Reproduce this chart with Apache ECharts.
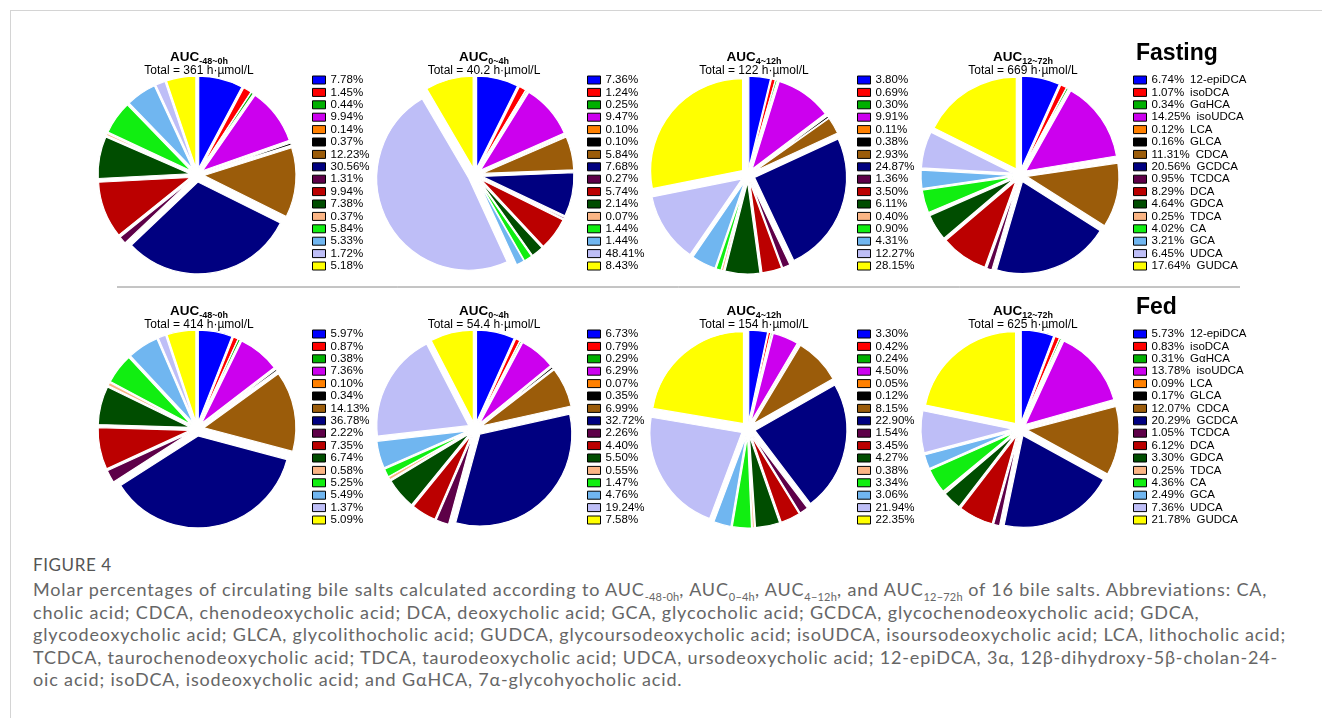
<!DOCTYPE html>
<html>
<head>
<meta charset="utf-8">
<script src="https://cdn.jsdelivr.net/npm/echarts@6/dist/echarts.min.js"></script>
<style>
body { margin: 0; background: #fff; }
#frame { position: absolute; left: 10px; top: 10px; width: 1320px; height: 720px; border-left: 1px solid #d4d4d4; border-top: 1px solid #d4d4d4; }
#chart { position: absolute; left: 0; top: 0; width: 1322px; height: 545px; }
#cap { position: absolute; left: 33px; top: 554px; font-family: Lato, sans-serif; color: #666; white-space: nowrap; }
#cap .fig { font-size: 17px; letter-spacing: 0.6px; color: #555; margin-bottom: 3px; }
#cap .txt { font-size: 18px; letter-spacing: 0.84px; line-height: 22.5px; }
#cap sub { font-size: 11px; line-height: 0; letter-spacing: 0.2px; }
</style>
</head>
<body>
<div id="frame"></div>
<div id="chart"></div>
<div id="cap">
  <div class="fig">FIGURE 4</div>
  <div class="txt">
    Molar percentages of circulating bile salts calculated according to AUC<sub>-48-0h</sub>, AUC<sub>0−4h</sub>, AUC<sub>4−12h</sub>, and AUC<sub>12−72h</sub> of 16 bile salts. Abbreviations: CA,<br>
    cholic acid; CDCA, chenodeoxycholic acid; DCA, deoxycholic acid; GCA, glycocholic acid; GCDCA, glycochenodeoxycholic acid; GDCA,<br>
    glycodeoxycholic acid; GLCA, glycolithocholic acid; GUDCA, glycoursodeoxycholic acid; isoUDCA, isoursodeoxycholic acid; LCA, lithocholic acid;<br>
    TCDCA, taurochenodeoxycholic acid; TDCA, taurodeoxycholic acid; UDCA, ursodeoxycholic acid; 12-epiDCA, 3α, 12β-dihydroxy-5β-cholan-24-<br>
    oic acid; isoDCA, isodeoxycholic acid; and GαHCA, 7α-glycohyocholic acid.
  </div>
</div>
<script>
// bile salts, in pie order (clockwise from 12 o'clock)
const bileSalts = ['12-epiDCA', 'isoDCA', 'GαHCA', 'isoUDCA', 'LCA', 'GLCA', 'CDCA', 'GCDCA',
  'TCDCA', 'DCA', 'GDCA', 'TDCA', 'CA', 'GCA', 'UDCA', 'GUDCA']
const saltColors = ['#0000ff', '#ff0000', '#00b000', '#cc00ee', '#ff8000', '#000000', '#9b5c0a', '#000080',
  '#5e0048', '#bb0000', '#004d00', '#fbb585', '#11ee11', '#70b6f0', '#bebef7', '#ffff00']

const periods = ['-48~0h', '0~4h', '4~12h', '12~72h']
const groups = ['Fasting', 'Fed']
const fastingTotals = ['361', '40.2', '122', '669']
const fedTotals = ['414', '54.4', '154', '625']

// molar percentages
const fasting48 = [7.78, 1.45, 0.44, 9.94, 0.14, 0.37, 12.23, 30.56, 1.31, 9.94, 7.38, 0.37, 5.84, 5.33, 1.72, 5.18]
const fasting04 = [7.36, 1.24, 0.25, 9.47, 0.10, 0.10, 5.84, 7.68, 0.27, 5.74, 2.14, 0.07, 1.44, 1.44, 48.41, 8.43]
const fasting412 = [3.80, 0.69, 0.30, 9.91, 0.11, 0.38, 2.93, 24.87, 1.36, 3.50, 6.11, 0.40, 0.90, 4.31, 12.27, 28.15]
const fasting1272 = [6.74, 1.07, 0.34, 14.25, 0.12, 0.16, 11.31, 20.56, 0.95, 8.29, 4.64, 0.25, 4.02, 3.21, 6.45, 17.64]
const fed48 = [5.97, 0.87, 0.38, 7.36, 0.10, 0.34, 14.13, 36.78, 2.22, 7.35, 6.74, 0.58, 5.25, 5.49, 1.37, 5.09]
const fed04 = [6.73, 0.79, 0.29, 6.29, 0.07, 0.35, 6.99, 32.72, 2.26, 4.40, 5.50, 0.55, 1.47, 4.76, 19.24, 7.58]
const fed412 = [3.30, 0.42, 0.24, 4.50, 0.05, 0.12, 8.15, 22.90, 1.54, 3.45, 4.27, 0.38, 3.34, 3.06, 21.94, 22.35]
const fed1272 = [5.73, 0.83, 0.31, 13.78, 0.09, 0.17, 12.07, 20.29, 1.05, 6.12, 3.30, 0.25, 4.36, 2.49, 7.36, 21.78]

const rows = [
  { totals: fastingTotals, values: [fasting48, fasting04, fasting412, fasting1272] },
  { totals: fedTotals, values: [fed48, fed04, fed412, fed1272] }
]

const font = '"Liberation Sans", Arial, sans-serif'
const pieX = [197, 475, 748, 1020]
const titleX = [199, 484, 754, 1023]
const legendX = [312, 587, 857, 1133]
const rowShift = 254

let series = []
let titles = []
let legends = []
let graphics = []

rows.forEach(function (row, r) {
  let dy = r * rowShift
  row.values.forEach(function (vals, c) {
    series.push({
      type: 'pie',
      center: [pieX[c], 175 + dy],
      radius: 92,
      startAngle: 90,
      clockwise: true,
      selectedMode: 'multiple',
      selectedOffset: 7,
      silent: true,
      label: { show: false },
      labelLine: { show: false },
      itemStyle: { borderColor: '#fff', borderWidth: 1.2 },
      data: bileSalts.map(function (n, i) {
        return { name: n, value: vals[i], selected: true, itemStyle: { color: saltColors[i] } }
      })
    })
    titles.push({
      text: '{a|AUC}{b|' + periods[c] + '}',
      subtext: 'Total = ' + row.totals[c] + ' h·µmol/L',
      left: titleX[c],
      top: 49 + dy,
      textAlign: 'center',
      padding: 0,
      itemGap: 0,
      textStyle: {
        rich: {
          a: { fontFamily: font, fontSize: 13.5, fontWeight: 'bold', color: '#000', lineHeight: 17, verticalAlign: 'middle' },
          b: { fontFamily: font, fontSize: 9, fontWeight: 'bold', color: '#000', lineHeight: 9, verticalAlign: 'bottom' }
        }
      },
      subtextStyle: { fontFamily: font, fontSize: 12, color: '#000', lineHeight: 13 }
    })
    let last = c === 3
    legends.push({
      orient: 'vertical',
      left: legendX[c],
      top: 74 + dy,
      padding: 0,
      itemGap: 0.4,
      itemWidth: 13,
      itemHeight: 8,
      icon: 'rect',
      selectedMode: false,
      itemStyle: { borderColor: '#000', borderWidth: 1 },
      data: bileSalts,
      formatter: function (name) {
        let v = vals[bileSalts.indexOf(name)].toFixed(2) + '%'
        return last ? '{p|' + v + '}{n|' + name + '}' : v
      },
      textStyle: {
        fontFamily: font, fontSize: 11.5, color: '#000', lineHeight: 12,
        rich: {
          p: { fontFamily: font, fontSize: 11.5, color: '#000', lineHeight: 12 },
          n: { fontFamily: font, fontSize: 11.5, color: '#000', lineHeight: 12, padding: [0, 0, 0, 6] }
        }
      }
    })
  })
  graphics.push({
    type: 'text',
    left: 1136,
    top: 42 + dy,
    style: { text: groups[r], font: 'bold 23px ' + font, fill: '#000' }
  })
})

graphics.push({
  type: 'line',
  shape: { x1: 117, y1: 287, x2: 1240, y2: 287 },
  style: { stroke: '#8a8a8a', lineWidth: 1 }
})

let myChart = echarts.init(document.getElementById('chart'))
myChart.setOption({
  animation: false,
  title: titles,
  legend: legends,
  graphic: graphics,
  series: series
})
</script>
</body>
</html>
